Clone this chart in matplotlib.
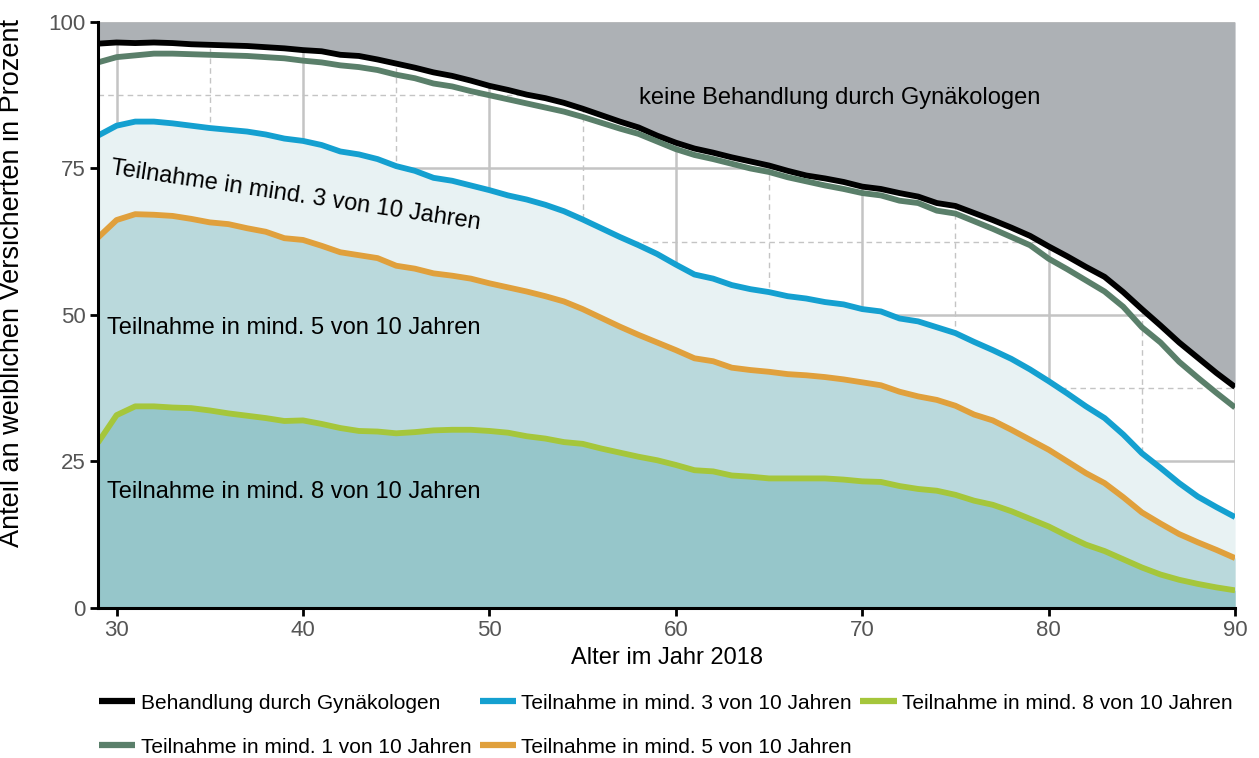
import matplotlib
matplotlib.use("Agg")
import matplotlib.pyplot as plt
import numpy as np

plt.rcParams["font.family"] = ["Liberation Sans", "DejaVu Sans"]

# --- data ---
ages = list(range(29, 91))

behandlung = [96.3, 96.5, 96.4, 96.5, 96.4, 96.2, 96.1, 96.0, 95.9, 95.7,
              95.5, 95.2, 95.0, 94.4, 94.2, 93.6, 92.9, 92.2, 91.4, 90.8,
              90.0, 89.1, 88.4, 87.6, 87.0, 86.2, 85.2, 84.1, 83.0, 82.0,
              80.6, 79.4, 78.4, 77.7, 76.9, 76.2, 75.5, 74.6, 73.8, 73.3,
              72.7, 71.9, 71.5, 70.8, 70.2, 69.1, 68.6, 67.4, 66.2, 64.9,
              63.5, 61.7, 60.0, 58.2, 56.5, 53.9, 51.0, 48.2, 45.3, 42.7,
              40.1, 37.7]

mind1 = [93.1, 94.0, 94.3, 94.6, 94.6, 94.5, 94.4, 94.3, 94.2, 94.0,
         93.8, 93.4, 93.1, 92.6, 92.3, 91.8, 91.0, 90.4, 89.5, 89.0,
         88.2, 87.5, 86.8, 86.1, 85.4, 84.7, 83.8, 82.8, 81.8, 80.9,
         79.6, 78.3, 77.3, 76.6, 75.8, 75.0, 74.4, 73.5, 72.8, 72.1,
         71.5, 70.8, 70.4, 69.5, 69.1, 67.8, 67.3, 66.0, 64.7, 63.3,
         61.9, 59.6, 57.8, 55.9, 54.0, 51.4, 47.9, 45.3, 42.0, 39.3,
         36.7, 34.2]

mind3 = [80.6, 82.3, 83.0, 83.0, 82.7, 82.3, 81.9, 81.6, 81.3, 80.8,
         80.1, 79.7, 79.0, 77.9, 77.4, 76.6, 75.4, 74.6, 73.4, 72.9,
         72.1, 71.3, 70.4, 69.7, 68.8, 67.7, 66.3, 64.8, 63.3, 61.9,
         60.4, 58.6, 56.9, 56.2, 55.1, 54.4, 53.9, 53.2, 52.8, 52.2,
         51.8, 51.0, 50.6, 49.4, 48.9, 47.9, 46.9, 45.4, 44.0, 42.5,
         40.7, 38.7, 36.6, 34.4, 32.4, 29.6, 26.4, 23.9, 21.3, 19.0,
         17.2, 15.5]

mind5 = [63.2, 66.2, 67.2, 67.1, 66.9, 66.4, 65.8, 65.5, 64.8, 64.2,
         63.1, 62.8, 61.8, 60.7, 60.2, 59.7, 58.4, 57.9, 57.1, 56.7,
         56.2, 55.4, 54.7, 54.0, 53.2, 52.3, 51.0, 49.5, 48.0, 46.6,
         45.3, 44.0, 42.6, 42.1, 41.0, 40.6, 40.3, 39.9, 39.7, 39.4,
         39.0, 38.5, 38.0, 36.9, 36.1, 35.5, 34.5, 33.0, 32.0, 30.4,
         28.7, 27.0, 25.0, 23.0, 21.3, 18.9, 16.3, 14.4, 12.6, 11.2,
         9.9, 8.5]

mind8 = [28.2, 32.9, 34.4, 34.4, 34.2, 34.1, 33.7, 33.2, 32.8, 32.4,
         31.9, 32.0, 31.4, 30.7, 30.2, 30.1, 29.8, 30.0, 30.3, 30.4,
         30.4, 30.2, 29.9, 29.3, 28.9, 28.3, 28.0, 27.2, 26.5, 25.8,
         25.2, 24.4, 23.5, 23.3, 22.6, 22.4, 22.1, 22.1, 22.1, 22.1,
         21.9, 21.6, 21.5, 20.8, 20.3, 20.0, 19.3, 18.3, 17.6, 16.5,
         15.2, 13.9, 12.3, 10.8, 9.7, 8.3, 6.9, 5.7, 4.8, 4.1,
         3.5, 3.0]

labels = ["Behandlung durch Gynäkologen",
          "Teilnahme in mind. 1 von 10 Jahren",
          "Teilnahme in mind. 3 von 10 Jahren",
          "Teilnahme in mind. 5 von 10 Jahren",
          "Teilnahme in mind. 8 von 10 Jahren"]

C_BLACK = "#000000"
C_1 = "#5a7f6a"
C_3 = "#14a0d0"
C_5 = "#e0a03c"
C_8 = "#a5c63b"

fig = plt.figure(figsize=(12.59, 7.58), dpi=100)
ax = fig.add_axes([0.0778, 0.198, 0.9032, 0.773])

x = np.array(ages)
ax.fill_between(x, behandlung, 100, color="#adb1b5", lw=0)
ax.fill_between(x, 0, mind3, color="#e8f2f3", lw=0)
ax.fill_between(x, 0, mind5, color="#bad9dc", lw=0)
ax.fill_between(x, 0, mind8, color="#96c6ca", lw=0)

lw = 4.2
ax.plot(x, behandlung, color=C_BLACK, lw=lw, label=labels[0], solid_capstyle="butt")
ax.plot(x, mind1, color=C_1, lw=lw, label=labels[1], solid_capstyle="butt")
ax.plot(x, mind3, color=C_3, lw=lw, label=labels[2], solid_capstyle="butt")
ax.plot(x, mind5, color=C_5, lw=lw, label=labels[3], solid_capstyle="butt")
ax.plot(x, mind8, color=C_8, lw=lw, label=labels[4], solid_capstyle="butt")

ax.set_xlim(29, 90)
ax.set_ylim(0, 100)
ax.set_xticks(range(30, 91, 10))
ax.set_yticks([0, 25, 50, 75, 100])
ax.set_xticks(range(35, 90, 10), minor=True)
ax.set_yticks([12.5, 37.5, 62.5, 87.5], minor=True)
ax.set_axisbelow(True)
ax.grid(which="major", color="#c4c4c4", lw=1.8, ls="-")
ax.grid(which="minor", color="#c4c4c4", lw=1.0, ls=(0, (4, 3)))

for s in ["top", "right"]:
    ax.spines[s].set_visible(False)
for s in ["left", "bottom"]:
    ax.spines[s].set_linewidth(2.2)
ax.tick_params(which="major", length=6, width=2, colors="#000000",
               labelcolor="#555555", labelsize=16, pad=3)
ax.tick_params(which="minor", length=0)

ax.set_xlabel("Alter im Jahr 2018", fontsize=17, labelpad=4)
ax.set_ylabel("Anteil an weiblichen Versicherten in Prozent", fontsize=19.5)
ax.yaxis.set_label_coords(-0.064, 0.555)

ax.text(58, 87.0, "keine Behandlung durch Gynäkologen", fontsize=17,
        ha="left", va="center")
ax.text(39.6, 70.3, labels[2], fontsize=17, ha="center", va="center",
        rotation=-8.5)
ax.text(29.5, 47.8, labels[3], fontsize=17, ha="left", va="center")
ax.text(29.5, 19.8, labels[4], fontsize=17, ha="left", va="center")

fig.legend(loc="upper left", bbox_to_anchor=(0.072, 0.096), ncol=3,
           frameon=False, fontsize=15, handlelength=1.75, handletextpad=0.25,
           columnspacing=0.4, labelspacing=1.2, borderaxespad=0)
for h in fig.legends[0].get_lines():
    h.set_linewidth(4.5)

fig.savefig("out.png", dpi=100)
